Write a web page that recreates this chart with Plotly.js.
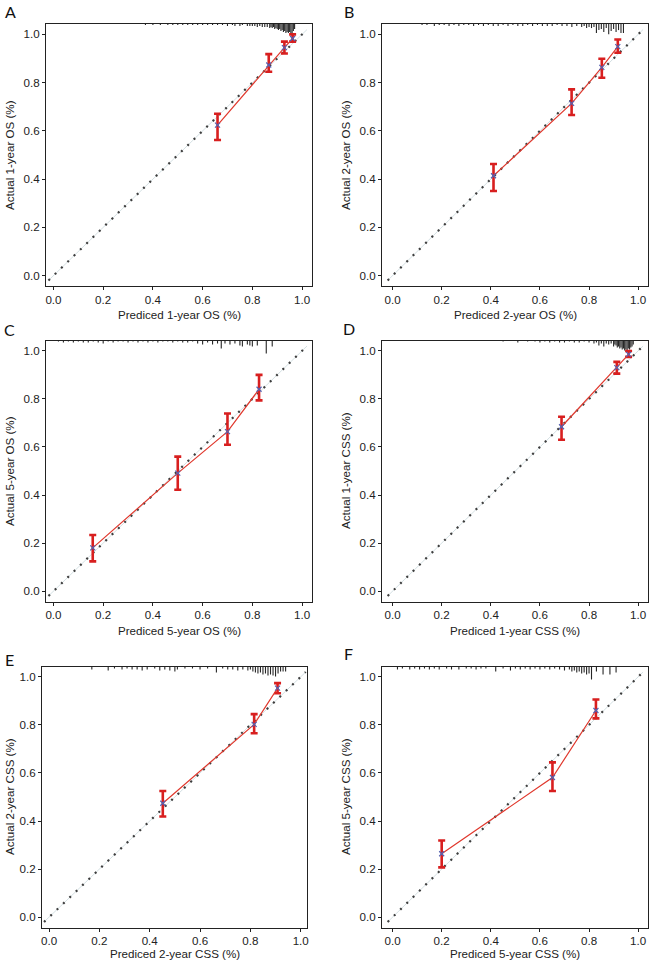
<!DOCTYPE html>
<html>
<head>
<meta charset="utf-8">
<script src="https://cdn.plot.ly/plotly-3.0.1.min.js"></script>
<style>html,body{margin:0;padding:0;background:#fff;}#chart{width:652px;height:962px;}</style>
</head>
<body>
<div id="chart"></div>
<script>
// ---------------- DATA ----------------
const panelLetters = ["A", "B", "C", "D", "E", "F"];
const xTitles = ["Prediced 1-year OS (%)", "Prediced 2-year OS (%)", "Prediced 5-year OS (%)",
                 "Prediced 1-year CSS (%)", "Prediced 2-year CSS (%)", "Prediced 5-year CSS (%)"];
const yTitles = ["Actual 1-year OS (%)", "Actual 2-year OS (%)", "Actual 5-year OS (%)",
                 "Actual 1-year CSS (%)", "Actual 2-year CSS (%)", "Actual 5-year CSS (%)"];
const tickVals = [0, 0.2, 0.4, 0.6, 0.8, 1.0];
const tickText = ["0.0", "0.2", "0.4", "0.6", "0.8", "1.0"];
const idealX = [-0.02, 1.02];
const idealY = [-0.02, 1.02];

// calibration points (predicted, observed, CI low, CI high)
const predA = [0.660, 0.866, 0.929, 0.962];
const obsA  = [0.624, 0.873, 0.945, 0.983];
const loA   = [0.562, 0.845, 0.921, 0.970];
const hiA   = [0.671, 0.918, 0.970, 1.000];

const predB = [0.411, 0.729, 0.852, 0.917];
const obsB  = [0.414, 0.714, 0.863, 0.949];
const loB   = [0.351, 0.666, 0.820, 0.924];
const hiB   = [0.463, 0.772, 0.899, 0.979];

const predC = [0.158, 0.500, 0.700, 0.827];
const obsC  = [0.180, 0.491, 0.664, 0.840];
const loC   = [0.124, 0.422, 0.609, 0.794];
const hiC   = [0.234, 0.560, 0.739, 0.900];

const predD = [0.688, 0.913, 0.961];
const obsD  = [0.684, 0.930, 0.985];
const loD   = [0.630, 0.905, 0.975];
const hiD   = [0.726, 0.954, 0.999];

const predE = [0.452, 0.815, 0.908];
const obsE  = [0.474, 0.802, 0.953];
const loE   = [0.419, 0.765, 0.932];
const hiE   = [0.525, 0.845, 0.974];

const predF = [0.200, 0.651, 0.828];
const obsF  = [0.264, 0.581, 0.860];
const loF   = [0.207, 0.525, 0.827];
const hiF   = [0.319, 0.644, 0.906];

// distribution of predictions (spike histogram at top): positions and relative counts
const rugXA = [0.37,0.40,0.43,0.46,0.48,0.50,0.52,0.54,0.56,0.58,0.60,0.62,0.64,0.66,0.68,0.70,0.72,0.73,0.75,0.76,0.78,0.79,0.80,0.81,0.82,0.83,0.84,0.85,0.86,0.87,0.875,0.88,0.885,0.89,0.895,0.90,0.905,0.91,0.915,0.92,0.925,0.93,0.935,0.94,0.945,0.95,0.955,0.96,0.965,0.97];
const rugNA = [1,1,1,1,1,1,1,1,1,1,1,1,1,1,1,2,1,2,2,1,2,2,2,2,3,2,3,3,3,4,3,4,3,5,4,5,6,5,7,6,8,7,9,8,9,8,9,9,7,5];

const rugXB = [0.12,0.14,0.17,0.19,0.21,0.23,0.25,0.27,0.29,0.31,0.33,0.35,0.37,0.39,0.41,0.43,0.45,0.47,0.49,0.51,0.53,0.55,0.57,0.59,0.61,0.63,0.65,0.67,0.69,0.71,0.73,0.75,0.77,0.78,0.79,0.80,0.81,0.82,0.83,0.84,0.85,0.86,0.87,0.88,0.89,0.90,0.91,0.92,0.93,0.94];
const rugNB = [1,1,2,1,1,2,1,2,1,1,2,1,2,1,2,2,1,2,1,2,2,1,2,1,2,2,2,1,2,2,3,2,3,2,4,3,4,3,9,6,5,8,4,10,7,5,8,6,9,9];

const rugXC = [0.02,0.04,0.06,0.08,0.10,0.12,0.14,0.16,0.18,0.20,0.22,0.24,0.26,0.28,0.30,0.32,0.34,0.36,0.38,0.40,0.42,0.44,0.46,0.48,0.50,0.52,0.54,0.56,0.58,0.60,0.62,0.64,0.66,0.675,0.69,0.71,0.73,0.75,0.76,0.78,0.79,0.80,0.82,0.856,0.88];
const rugNC = [1,2,1,2,1,2,2,1,2,3,1,2,1,1,2,1,2,1,2,1,2,1,1,2,1,2,2,1,3,4,2,4,3,8,3,4,3,5,6,4,5,6,5,13,6];

const rugXD = [0.45,0.51,0.55,0.58,0.60,0.62,0.64,0.66,0.68,0.70,0.72,0.74,0.76,0.78,0.80,0.82,0.83,0.84,0.85,0.86,0.87,0.88,0.89,0.90,0.905,0.91,0.915,0.92,0.925,0.93,0.935,0.94,0.945,0.95,0.955,0.96,0.965,0.97,0.975,0.98];
const rugND = [1,2,1,1,2,1,2,1,2,2,1,2,2,1,2,3,2,5,3,6,3,4,3,6,4,5,7,6,8,7,9,8,10,9,10,8,9,7,6,4];

const rugXE = [0.17,0.235,0.26,0.29,0.31,0.33,0.35,0.37,0.39,0.42,0.44,0.46,0.48,0.50,0.51,0.54,0.57,0.60,0.63,0.665,0.69,0.71,0.73,0.75,0.77,0.79,0.80,0.81,0.82,0.83,0.84,0.85,0.86,0.87,0.88,0.89,0.90,0.91,0.92,0.93,0.94];
const rugNE = [3,4,2,3,2,3,3,4,3,2,4,3,4,5,3,2,2,3,2,6,2,3,3,4,3,4,3,5,6,7,6,8,7,9,8,9,10,7,5,5,5];

const rugXF = [0.02,0.04,0.07,0.09,0.11,0.13,0.15,0.17,0.19,0.22,0.24,0.27,0.30,0.32,0.34,0.36,0.38,0.42,0.45,0.48,0.50,0.52,0.54,0.56,0.58,0.60,0.62,0.64,0.66,0.68,0.70,0.72,0.73,0.74,0.75,0.76,0.77,0.78,0.79,0.80,0.81,0.83,0.857,0.885,0.91];
const rugNF = [3,2,3,2,3,2,3,2,3,2,3,3,2,2,3,2,2,5,2,4,2,3,2,3,2,3,2,3,2,3,4,3,5,4,6,5,7,6,8,7,13,5,8,8,6];

// ---------------- LAYOUT GEOMETRY ----------------
const W = 652, H = 962;
// plot boxes in px: [left, right, top, bottom]
const boxes = [
  [46, 312, 24, 286], [382, 648, 24, 286],
  [46, 312, 340.5, 601.5], [382, 648, 340.5, 601.5],
  [42, 307, 666.5, 927.5], [382, 648, 666.5, 927.5]
];
const xRanges = [[-0.03, 1.04], [-0.043, 1.04], [-0.03, 1.04], [-0.043, 1.04], [-0.028, 1.025], [-0.043, 1.04]];
const yRange = [-0.043, 1.043];
const spikeUnit = 0.0042;

const panels = [
  {pred: predA, obs: obsA, lo: loA, hi: hiA, rx: rugXA, rn: rugNA},
  {pred: predB, obs: obsB, lo: loB, hi: hiB, rx: rugXB, rn: rugNB},
  {pred: predC, obs: obsC, lo: loC, hi: hiC, rx: rugXC, rn: rugNC},
  {pred: predD, obs: obsD, lo: loD, hi: hiD, rx: rugXD, rn: rugND},
  {pred: predE, obs: obsE, lo: loE, hi: hiE, rx: rugXE, rn: rugNE},
  {pred: predF, obs: obsF, lo: loF, hi: hiF, rx: rugXF, rn: rugNF}
];

const FONT = "Liberation Sans";
const FS = 11.6;
const traces = [];
const layout = {
  width: W, height: H,
  margin: {l: 0, r: 0, t: 0, b: 0},
  paper_bgcolor: "#ffffff", plot_bgcolor: "#ffffff",
  showlegend: false,
  font: {family: FONT, size: FS, color: "#222"},
  annotations: []
};

panels.forEach((p, i) => {
  const n = i + 1;
  const xa = n === 1 ? "x" : "x" + n;
  const ya = n === 1 ? "y" : "y" + n;
  const b = boxes[i];
  const axCommon = {
    showline: true, mirror: true, linecolor: "#222", linewidth: 1,
    ticks: "outside", ticklen: 3, tickwidth: 1, tickcolor: "#222",
    tickvals: tickVals, ticktext: tickText,
    showgrid: false, zeroline: false, fixedrange: true,
    tickfont: {family: FONT, size: FS, color: "#222"}
  };
  layout["xaxis" + (n === 1 ? "" : n)] = Object.assign({}, axCommon, {
    domain: [b[0] / W, b[1] / W], range: xRanges[i], anchor: ya
  });
  layout["yaxis" + (n === 1 ? "" : n)] = Object.assign({}, axCommon, {
    domain: [1 - b[3] / H, 1 - b[2] / H], range: yRange, anchor: xa
  });

  // ideal line: faint line + dotted overlay
  traces.push({x: idealX, y: idealY, xaxis: xa, yaxis: ya, mode: "lines",
    line: {color: "#c9d8dc", width: 0.8}, hoverinfo: "skip"});
  traces.push({x: idealX, y: idealY, xaxis: xa, yaxis: ya, mode: "lines",
    line: {color: "#3d3d3d", width: 2.2, dash: "2px,6.8px"}, hoverinfo: "skip"});

  // spike histogram of predictions at top
  const sx = [], sy = [];
  p.rx.forEach((xv, k) => {
    sx.push(xv, xv, null);
    sy.push(yRange[1], yRange[1] - p.rn[k] * spikeUnit, null);
  });
  traces.push({x: sx, y: sy, xaxis: xa, yaxis: ya, mode: "lines",
    line: {color: "#262626", width: 1.1}, hoverinfo: "skip", connectgaps: false});

  // calibration line with CI
  traces.push({
    x: p.pred, y: p.obs, xaxis: xa, yaxis: ya, mode: "lines",
    line: {color: "#e0382d", width: 1.2},
    error_y: {type: "data", symmetric: false,
      array: p.hi.map((h, k) => h - p.obs[k]),
      arrayminus: p.lo.map((l, k) => p.obs[k] - l),
      color: "#d81f1f", thickness: 2.6, width: 3.5}
  });
  // blue x markers
  traces.push({x: p.pred, y: p.obs, xaxis: xa, yaxis: ya, mode: "markers",
    marker: {symbol: "x-thin", size: 5, color: "#5560b0", line: {color: "#5560b0", width: 1.2}}});

  const cx = (b[0] + b[1]) / 2 / W;
  const xTitleY = (i >= 4) ? b[3] + 26 : b[3] + 29;
  layout.annotations.push({
    text: xTitles[i], xref: "paper", yref: "paper", x: cx, y: 1 - xTitleY / H,
    xanchor: "center", yanchor: "middle", showarrow: false,
    font: {family: FONT, size: FS, color: "#222"}
  });
  const yTitleX = (i % 2 === 0) ? 9 : 345;
  layout.annotations.push({
    text: yTitles[i], xref: "paper", yref: "paper", x: yTitleX / W,
    y: 1 - ((b[2] + b[3]) / 2) / H, textangle: -90,
    xanchor: "center", yanchor: "middle", showarrow: false,
    font: {family: FONT, size: FS, color: "#222"}
  });
  const letterPos = [[10, 11], [349, 11], [9, 329], [349, 328], [9, 659], [348, 653]];
  layout.annotations.push({
    text: panelLetters[i], xref: "paper", yref: "paper",
    x: letterPos[i][0] / W, y: 1 - letterPos[i][1] / H,
    xanchor: "center", yanchor: "middle", showarrow: false,
    font: {family: "Lato", size: 16, color: "#111"}
  });
});

Plotly.newPlot("chart", traces, layout, {staticPlot: true, displayModeBar: false});
</script>
</body>
</html>
